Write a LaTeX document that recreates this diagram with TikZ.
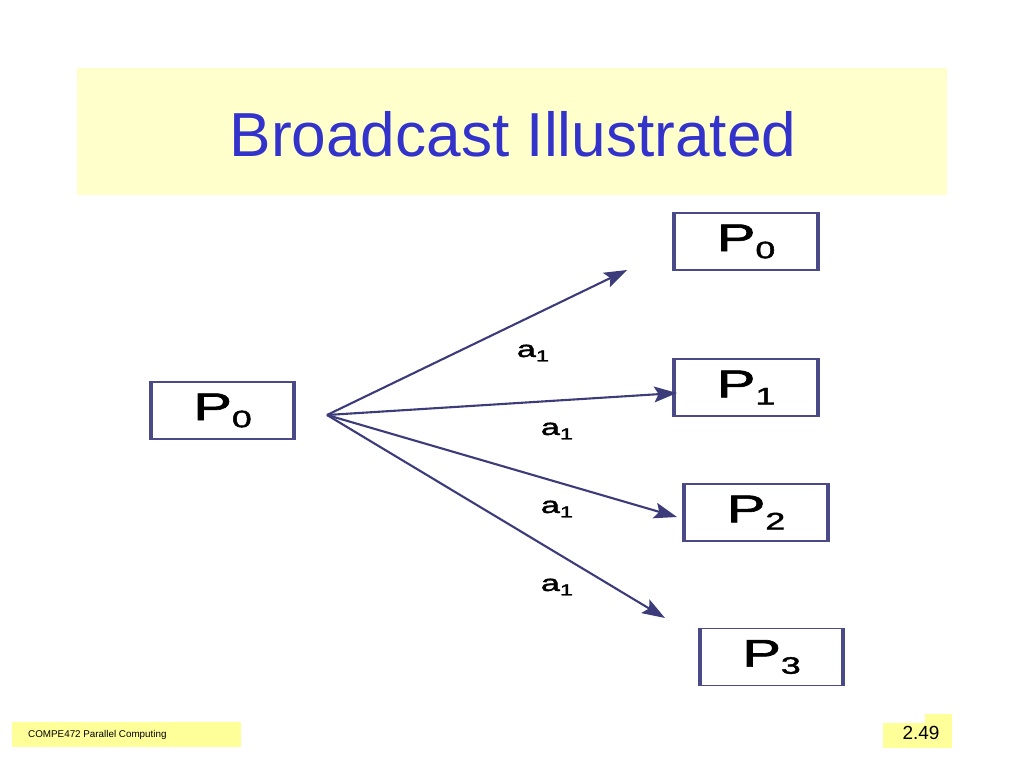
\documentclass[tikz,border=0pt]{standalone}
\usepackage{fontspec}
\setmainfont{Liberation Sans}
\newfontfamily\labelfont[FakeBold=1.6]{Liberation Sans}
\usetikzlibrary{arrows.meta}

\definecolor{titlefill}{HTML}{FFFFCC}
\definecolor{footfill}{HTML}{FFFF99}
\definecolor{titleblue}{HTML}{3333CC}
\definecolor{boxline}{HTML}{4A4A88}
\definecolor{arrowcol}{HTML}{3C3C7A}

% stretched sans labels as on the slide
\newcommand{\stretchx}[1]{\scalebox{1.5}[1]{#1}}
\newcommand{\proc}[1]{\stretchx{\labelfont\fontsize{22}{22}\selectfont P\raisebox{-4pt}{\fontsize{13.5}{13.5}\selectfont #1}}}
\newcommand{\msg}{\stretchx{\labelfont\fontsize{13}{13}\selectfont a\raisebox{-2.5pt}{\fontsize{9}{9}\selectfont 1}}}

\begin{document}
\begin{tikzpicture}[x=0.02cm,y=-0.02cm,
  procbox/.style={draw=boxline, line width=1pt, fill=white, inner sep=0pt,
    minimum width=2.84cm, minimum height=1.14cm},
  side/.style={draw=boxline, line width=2.2pt},
  bcast/.style={draw=arrowcol, line width=1.2pt, -{Stealth[length=13pt,width=9pt,inset=2.5pt]}},
  msglabel/.style={inner sep=0pt}]

\useasboundingbox (0,0) rectangle (1024,768);

% title band
\fill[titlefill] (77,68) rectangle (947,195);
\node[text=titleblue, font=\fontsize{35.4}{36}\selectfont] (title) at (513,134) {Broadcast Illustrated};

% the processes
\node[procbox] (src) at (222.5,410.5) {\proc{0}};
\node[procbox] (dst0) at (746,241.5) {\proc{0}};
\node[procbox] (dst1) at (746,387.5) {\proc{1}};
\node[procbox] (dst2) at (756,512.5) {\proc{2}};
\node[procbox] (dst3) at (771.5,657) {\proc{3}};

% heavier left and right sides
\foreach \n in {src,dst0,dst1,dst2,dst3} {
  \draw[side] (\n.north west) -- (\n.south west);
  \draw[side] (\n.north east) -- (\n.south east);
}

% broadcast from the root
\coordinate (hub) at (327,415);
\coordinate (tip0) at (627,270);
\coordinate (tip1) at (677,393);
\coordinate (tip2) at (677,517);
\coordinate (tip3) at (665,618);
\foreach \i in {0,...,3} {
  \draw[bcast] (hub) -- (tip\i);
}

% message labels
\node[msglabel] (m0) at (533,353) {\msg};
\node[msglabel] (m1) at (557,431) {\msg};
\node[msglabel] (m2) at (557,509) {\msg};
\node[msglabel] (m3) at (557,587) {\msg};

% footer
\fill[footfill] (12,722) rectangle (241,747);
\node[anchor=west, font=\fontsize{5.6}{6}\selectfont] (course) at (22,734.5) {COMPE472 Parallel Computing};
\fill[footfill] (883,723) rectangle (952,748);
\fill[footfill] (925,714) rectangle (952,748);
\node[font=\fontsize{10.8}{11}\selectfont] (page) at (921,733) {2.49};
\end{tikzpicture}
\end{document}
